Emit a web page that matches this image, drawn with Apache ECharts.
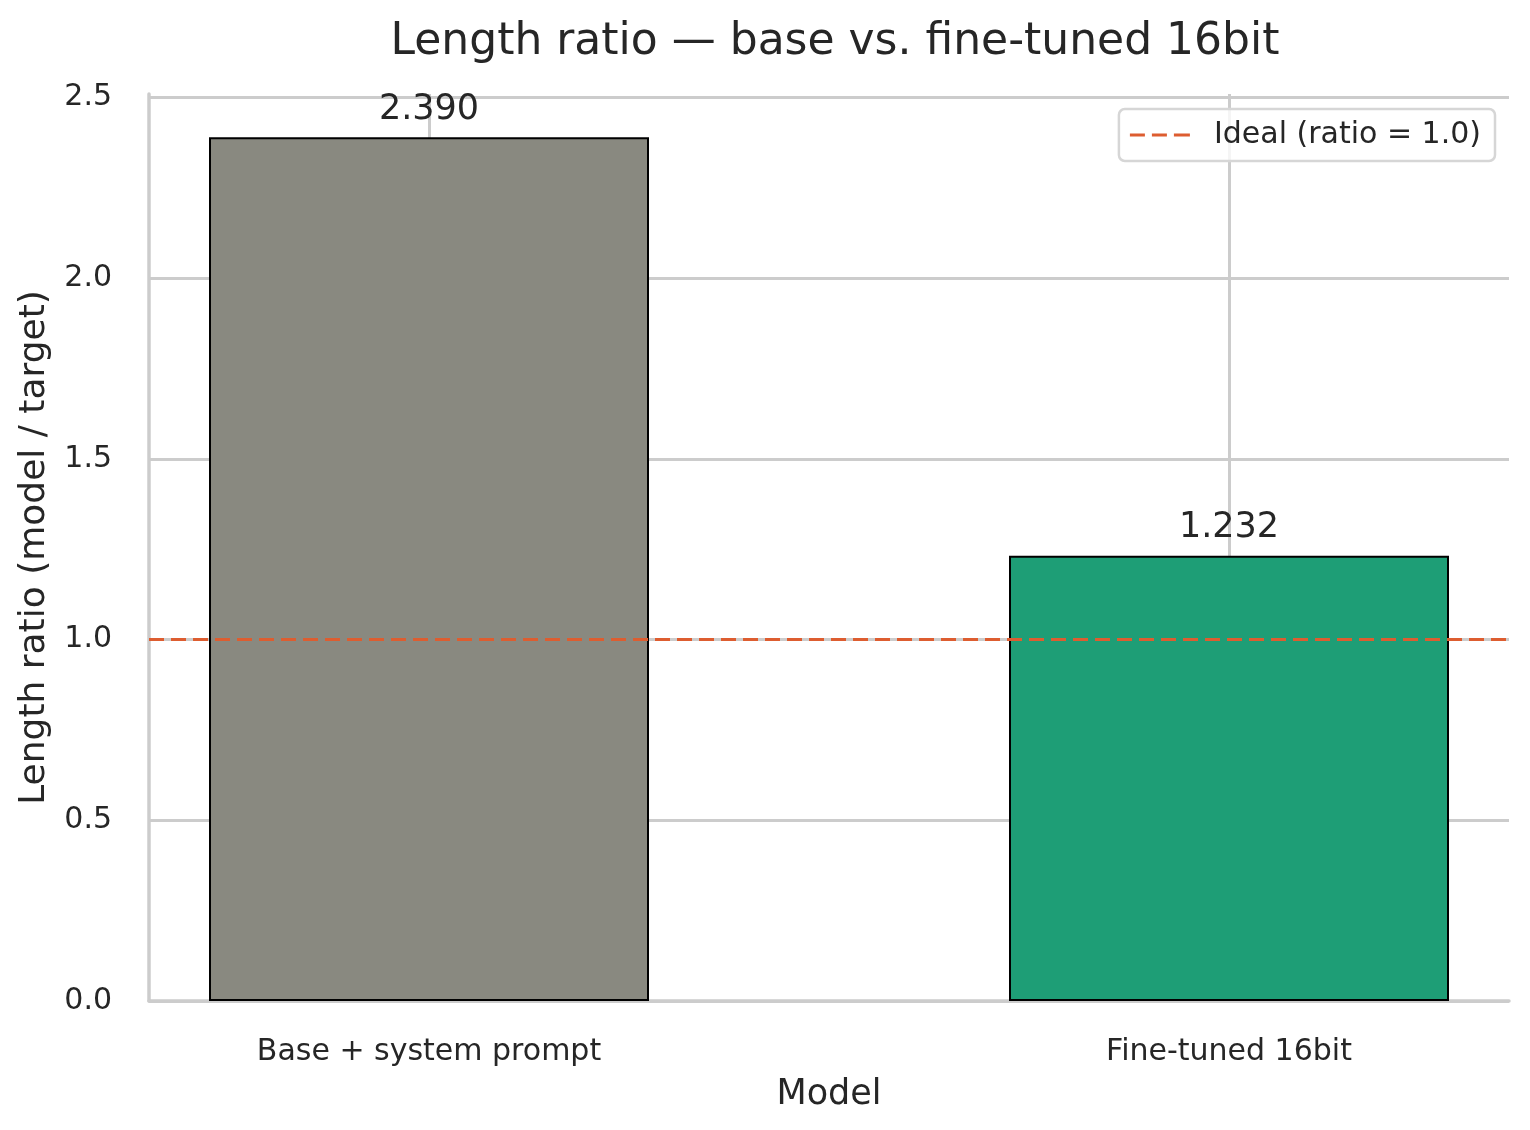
<!DOCTYPE html>
<html>
<head>
<meta charset="utf-8">
<script src="https://cdn.jsdelivr.net/npm/echarts@6/dist/echarts.min.js"></script>
<style>
    html, body { margin: 0; padding: 0; background: #fff; }
    #chart { width: 1530px; height: 1130px; }
</style>
</head>
<body>
<div id="chart"></div>
<script>
    // data
    const categories = ['Base + system prompt', 'Fine-tuned 16bit'];
    const ratios = [2.390, 1.232];
    const barColors = ['#898980', '#1e9e76'];
    const idealRatio = 1.0;
    const yTicks = [0, 0.5, 1.0, 1.5, 2.0, 2.5];

    const font = 'DejaVu Sans';
    const textColor = '#262626';
    const gridColor = '#cccccc';
    const idealColor = '#dd5d30';

    const bars = categories.map(function (name, i) {
        return {
            value: [i, ratios[i]],
            itemStyle: { color: barColors[i] }
        };
    });

    const chart = echarts.init(document.getElementById('chart'));
    chart.setOption({
        animation: false,
        textStyle: { fontFamily: font, color: textColor },
        title: {
            text: 'Length ratio \u2014 base vs. fine-tuned 16bit',
            left: 830,
            top: 16,
            textAlign: 'center',
            textStyle: { fontFamily: font, fontSize: 44, fontWeight: 'normal', color: textColor }
        },
        legend: {
            right: 35,
            top: 109,
            padding: [11, 14, 11, 11],
            backgroundColor: 'rgba(255,255,255,0.8)',
            borderColor: '#d6d6d6',
            borderWidth: 2.5,
            borderRadius: 6,
            // dashed line sample, like matplotlib's legend handle
            icon: 'path://M0,0h15v3h-15z M22,0h15v3h-15z M44,0h16v3h-16z',
            itemWidth: 60,
            itemHeight: 3,
            itemStyle: { color: idealColor },
            textStyle: { fontFamily: font, fontSize: 30, color: textColor, padding: [0, 0, 0, 19] },
            data: ['Ideal (ratio = 1.0)']
        },
        grid: { left: 149, right: 21, top: 94, bottom: 129 },
        xAxis: {
            type: 'value',
            min: -0.35,
            max: 1.35,
            name: 'Model',
            nameLocation: 'middle',
            nameGap: 76,
            nameTextStyle: { fontFamily: font, fontSize: 35, color: textColor },
            axisLine: { show: true, onZero: false, lineStyle: { color: gridColor, width: 3.5 } },
            axisTick: { show: false, customValues: [0, 1] },
            axisLabel: {
                customValues: [0, 1],
                margin: 36,
                fontFamily: font,
                fontSize: 30,
                color: textColor,
                formatter: function (v) { return categories[Math.round(v)]; }
            },
            splitLine: { show: true, lineStyle: { color: gridColor, width: 3 } }
        },
        yAxis: {
            type: 'value',
            min: 0,
            max: 2.51,
            interval: 0.5,
            name: 'Length ratio (model / target)',
            nameLocation: 'middle',
            nameGap: 96,
            nameTextStyle: { fontFamily: font, fontSize: 36, color: textColor },
            axisLine: { show: true, onZero: false, lineStyle: { color: gridColor, width: 3.5 } },
            axisTick: { show: false },
            axisLabel: {
                margin: 37,
                fontFamily: font,
                fontSize: 30,
                color: textColor,
                formatter: function (v) {
                    return yTicks.indexOf(v) >= 0 ? v.toFixed(1) : '';
                }
            },
            splitLine: { show: true, showMaxLine: false, lineStyle: { color: gridColor, width: 3 } }
        },
        series: [
            {
                type: 'bar',
                barWidth: 440,
                data: bars,
                itemStyle: { borderColor: '#000', borderWidth: 2 },
                label: {
                    show: true,
                    position: 'top',
                    distance: 10,
                    fontFamily: font,
                    fontSize: 35,
                    color: textColor,
                    formatter: function (p) { return p.value[1].toFixed(3); }
                },
                z: 2
            },
            {
                type: 'line',
                name: 'Ideal (ratio = 1.0)',
                data: [],
                symbol: 'none',
                lineStyle: { color: idealColor, width: 3, type: [15, 7] },
                itemStyle: { color: idealColor },
                markLine: {
                    silent: true,
                    symbol: 'none',
                    label: { show: false },
                    lineStyle: { color: idealColor, width: 3, type: [15, 7] },
                    data: [{ yAxis: idealRatio }]
                },
                z: 3
            }
        ]
    });
</script>
</body>
</html>
